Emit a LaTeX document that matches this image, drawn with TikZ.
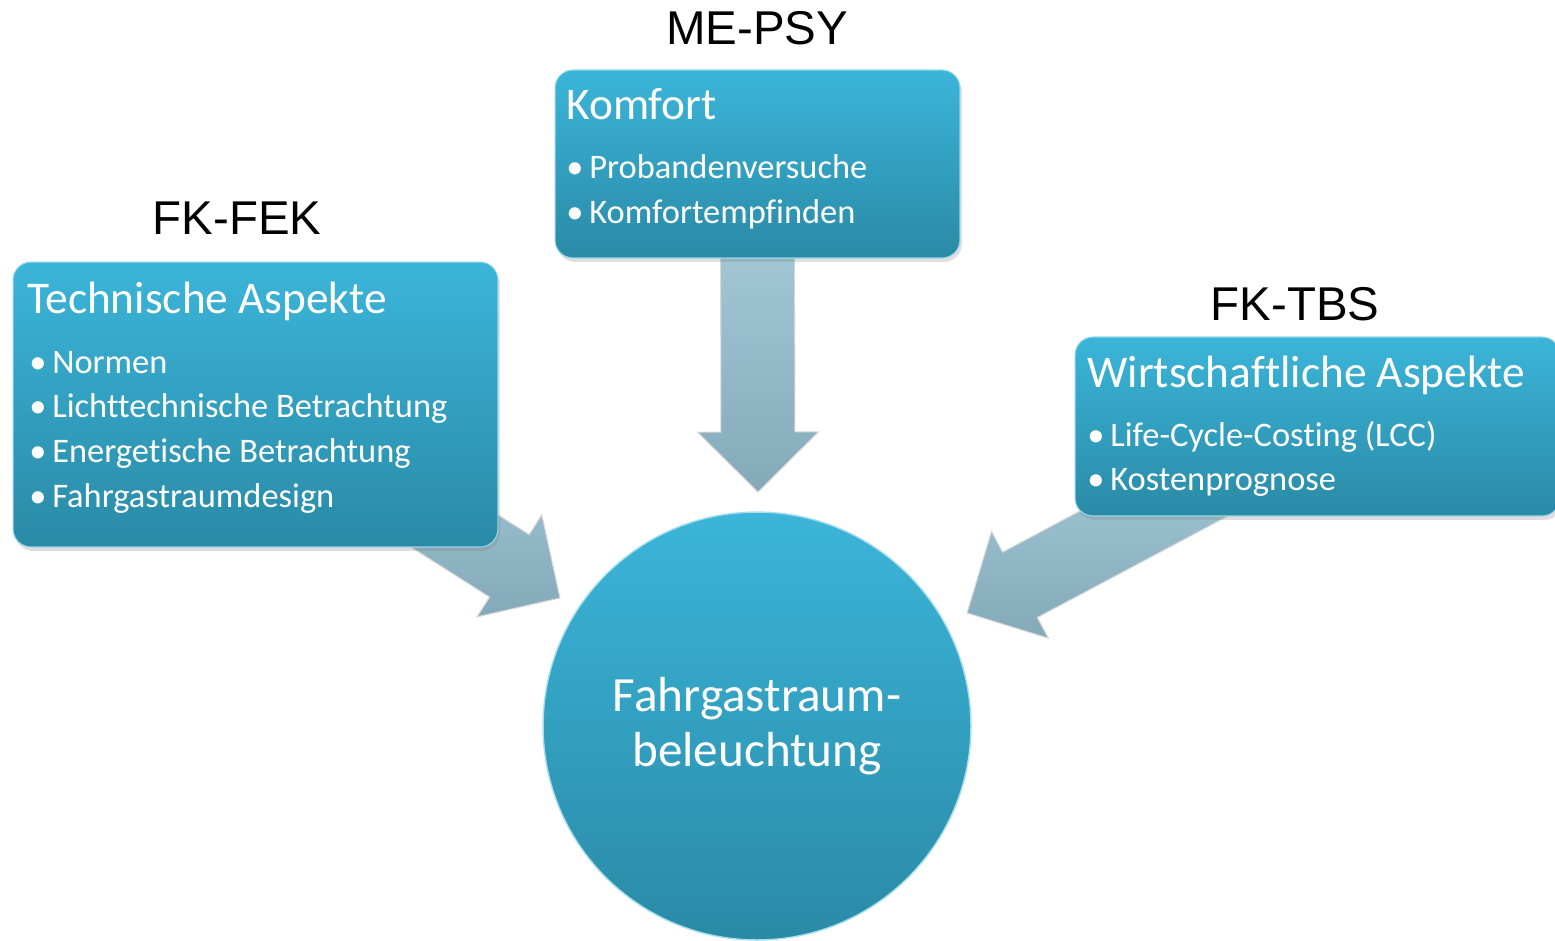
\documentclass[tikz,border=0pt]{standalone}
\usepackage{fontspec}
\setmainfont[Ligatures={NoCommon}]{Carlito}
\newfontfamily\headfont{Liberation Sans}
\usetikzlibrary{calc,shadows,backgrounds}

\definecolor{boxtop}{HTML}{3BB5D9}
\definecolor{boxbot}{HTML}{2A8AA6}
\definecolor{arrowtop}{HTML}{ACD0DE}
\definecolor{arrowbot}{HTML}{84AABA}

\tikzset{
  aspectbox/.style={rectangle, rounded corners=0.36cm, top color=boxtop, bottom color=boxbot,
    draw=boxtop!55!white, line width=0.6pt,
    drop shadow={opacity=0.25, shadow xshift=0.04cm, shadow yshift=-0.08cm}},
  hubcircle/.style={circle, minimum size=8.56cm, top color=boxtop, bottom color=boxbot,
    draw=boxtop!45!white, line width=0.8pt, text=white, align=center,
    font=\fontsize{28}{31.7}\selectfont},
  grouplabel/.style={font=\headfont\fontsize{27}{32}\selectfont, inner sep=0pt},
  boxtitle/.style={anchor=base west, inner sep=0pt, text=white, font=\fontsize{25.8}{30}\selectfont},
  bulletitem/.style={anchor=base west, inner sep=0pt, text=white, font=\fontsize{19.6}{23}\selectfont},
  arrowfill/.style={top color=arrowtop, bottom color=arrowbot, draw=white!70!gray, line width=0.6pt}
}

% broad block arrow: #1 start, #2 tip
\newcommand{\fatarrow}[2]{%
  \path ($(#2)!1.2cm!(#1)$) coordinate (neck);
  \path[arrowfill] ($(#1)!0.74cm!90:(#2)$) -- ($(neck)!0.74cm!90:(#2)$)
    -- ($(neck)!1.21cm!90:(#2)$) -- (#2) -- ($(neck)!1.21cm!-90:(#2)$)
    -- ($(neck)!0.74cm!-90:(#2)$) -- ($(#1)!0.74cm!-90:(#2)$) -- cycle;
}

\begin{document}
\begin{tikzpicture}[x=0.02cm, y=-0.02cm]
\useasboundingbox (0,0) rectangle (1555,940);

% boxes
\node[aspectbox, minimum width=9.7cm, minimum height=5.7cm] (techbox) at (255.5,404.5) {};
\node[aspectbox, minimum width=8.1cm, minimum height=3.76cm] (komfortbox) at (757.5,164) {};
\node[aspectbox, minimum width=9.7cm, minimum height=3.58cm] (wirtbox) at (1317.5,426.5) {};
\node[hubcircle] (hub) at (757,726) {Fahrgastraum-\\beleuchtung};

% group labels
\node[grouplabel] (fek) at (237,218) {FK-FEK};
\node[grouplabel] (psy) at (757,28) {ME-PSY};
\node[grouplabel] (tbs) at (1295,304) {FK-TBS};

% box texts
\node[boxtitle] (techtitle) at (27,313) {Technische Aspekte};
\foreach \t [count=\i] in {Normen, Lichttechnische Betrachtung, Energetische Betrachtung, Fahrgastraumdesign}
  \node[bulletitem] at (29,{373+44.7*(\i-1)}) {\makebox[0.46cm][l]{\textbullet}\t};

\node[boxtitle] (komforttitle) at (566,119) {Komfort};
\foreach \t [count=\i] in {Probandenversuche, Komfortempfinden}
  \node[bulletitem] at (566,{178+45*(\i-1)}) {\makebox[0.46cm][l]{\textbullet}\t};

\node[boxtitle] (wirttitle) at (1087,387) {Wirtschaftliche Aspekte};
\foreach \t [count=\i] in {Life-Cycle-Costing (LCC), Kostenprognose}
  \node[bulletitem] at (1087,{446+44*(\i-1)}) {\makebox[0.46cm][l]{\textbullet}\t};

% arrow tips
\coordinate (tipl) at (560,598);
\coordinate (tipt) at (758,492);
\coordinate (tipr) at (967,613);

\begin{pgfonlayer}{background}
  \fatarrow{techbox.center}{tipl}
  \fatarrow{komfortbox.center}{tipt}
  \fatarrow{wirtbox.center}{tipr}
\end{pgfonlayer}
\end{tikzpicture}
\end{document}
